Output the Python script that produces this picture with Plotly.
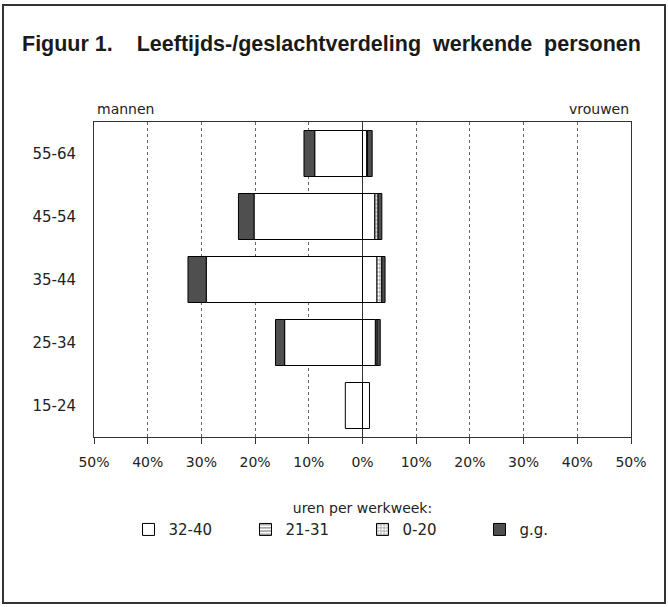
import plotly.graph_objects as go

# ---- data (percent of working persons) ----
age_groups = ["15-24", "25-34", "35-44", "45-54", "55-64"]
hour_classes = ["32-40", "21-31", "0-20", "g.g."]

men_32_40 = [3.2, 14.5, 29.1, 20.2, 8.9]
men_21_31 = [0.0, 0.0, 0.0, 0.0, 0.0]
men_0_20 = [0.0, 0.0, 0.0, 0.0, 0.0]
men_gg = [0.0, 1.7, 3.4, 2.9, 2.0]

women_32_40 = [1.3, 2.4, 2.7, 2.3, 0.8]
women_21_31 = [0.0, 0.0, 0.0, 0.0, 0.0]
women_0_20 = [0.0, 0.3, 0.9, 0.6, 0.1]
women_gg = [0.0, 0.6, 0.6, 0.7, 0.9]

x_ticks = [-50, -40, -30, -20, -10, 0, 10, 20, 30, 40, 50]
x_tick_labels = ["50%", "40%", "30%", "20%", "10%", "0%", "10%", "20%", "30%", "40%", "50%"]

men = [men_32_40, men_21_31, men_0_20, men_gg]
women = [women_32_40, women_21_31, women_0_20, women_gg]

styles = {
    "32-40": dict(color="white"),
    "21-31": dict(color="white", pattern=dict(shape="-", fgcolor="black", bgcolor="white", size=4, solidity=0.35)),
    "0-20": dict(color="white", pattern=dict(shape="+", fgcolor="black", bgcolor="white", size=4, solidity=0.3)),
    "g.g.": dict(color="#4f4f4f"),
}

FONT = "DejaVu Sans"

fig = go.Figure()
for name, vals in zip(hour_classes, men):
    fig.add_trace(go.Bar(
        y=age_groups, x=[-v if v else None for v in vals], orientation="h",
        name=name, legendgroup=name, showlegend=False, width=0.73,
        marker=dict(line=dict(color="black", width=1), **styles[name]),
    ))
for name, vals in zip(hour_classes, women):
    fig.add_trace(go.Bar(
        y=age_groups, x=[v if v else None for v in vals], orientation="h",
        name=name, legendgroup=name, showlegend=True, width=0.73,
        marker=dict(line=dict(color="black", width=1), **styles[name]),
    ))

W, H = 668, 607
L, R, T, B = 94, 37, 122, 170
pw, ph = W - L - R, H - T - B

def px_x(p):
    return (p - L) / pw

def px_y(p):
    return (H - B - p) / ph

fig.update_layout(
    width=W, height=H,
    margin=dict(l=L, r=R, t=T, b=B),
    paper_bgcolor="white", plot_bgcolor="white",
    barmode="relative",
    font=dict(family=FONT, size=14, color="#222222"),
    title=dict(
        text="<b>Figuur 1.\u00a0\u00a0\u00a0 Leeftijds-/geslachtverdeling\u00a0 werkende\u00a0 personen</b>",
        x=22 / W, xanchor="left", y=1 - 43 / H, yanchor="middle",
        font=dict(family="Liberation Sans", size=21.5, color="#1a1a1a"),
    ),
    xaxis=dict(
        range=[-50, 50], tickvals=x_ticks, ticktext=x_tick_labels,
        showgrid=True, gridcolor="#666666", griddash="dot", gridwidth=1,
        zeroline=True, zerolinecolor="#333333", zerolinewidth=1,
        showline=True, linecolor="#333333", linewidth=1, mirror=True,
        ticks="outside", ticklen=6, tickcolor="#333333",
        ticklabelstandoff=6,
        tickfont=dict(family=FONT, size=14, color="#222222"),
        fixedrange=True,
    ),
    yaxis=dict(
        categoryorder="array", categoryarray=age_groups,
        range=[-0.5, 4.5],
        showgrid=False, zeroline=False,
        showline=True, linecolor="#333333", linewidth=1, mirror=True,
        ticks="", ticklabelstandoff=14,
        tickfont=dict(family=FONT, size=15, color="#222222"),
        fixedrange=True,
    ),
    legend=dict(
        orientation="h", x=0.5, xanchor="center",
        y=px_y(495), yanchor="top",
        title=dict(text="uren per werkweek:", side="top center",
                   font=dict(family=FONT, size=14, color="#222222")),
        font=dict(family=FONT, size=15, color="#222222"),
        entrywidth=72, entrywidthmode="pixels",
        traceorder="normal",
        tracegroupgap=0,
    ),
    annotations=[
        dict(text="mannen", xref="paper", yref="paper", x=px_x(95), y=px_y(109),
             xanchor="left", yanchor="middle", showarrow=False,
             font=dict(family=FONT, size=14, color="#222222")),
        dict(text="vrouwen", xref="paper", yref="paper", x=px_x(631), y=px_y(109),
             xanchor="right", yanchor="middle", showarrow=False,
             font=dict(family=FONT, size=14, color="#222222")),
    ],
    shapes=[
        dict(type="rect", xref="paper", yref="paper",
             x0=px_x(3), x1=px_x(665), y0=px_y(603), y1=px_y(5),
             line=dict(color="#333333", width=2), fillcolor="rgba(0,0,0,0)", layer="below"),
    ],
)

fig.write_html("out.html", config={"displayModeBar": False},
               post_script="document.body.style.margin='0';")
